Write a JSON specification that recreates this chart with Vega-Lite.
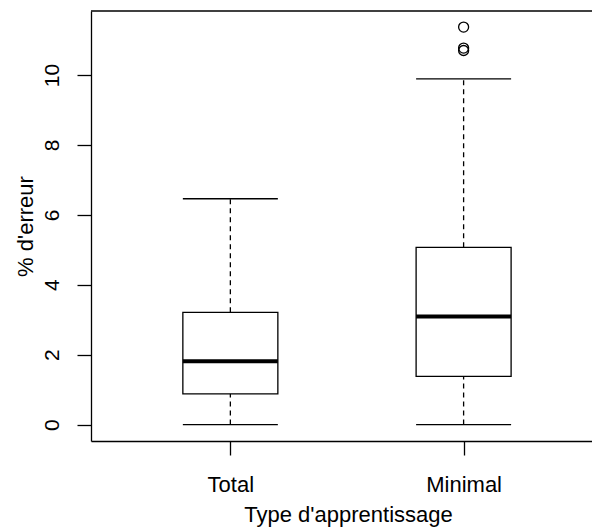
{
  "$schema": "https://vega.github.io/schema/vega-lite/v6.json",
  "width": 501,
  "height": 430,
  "autosize": {"type": "none"},
  "padding": {"left": 91, "top": 11, "right": 0, "bottom": 86},
  "background": "white",
  "config": {
    "view": {"stroke": null},
    "font": "Liberation Sans"
  },
  "datasets": {
    "stats": [
      {"group": 1, "label": "Total", "lo": 0, "q1": 0.88, "median": 1.81, "q3": 3.21, "hi": 6.46},
      {"group": 2, "label": "Minimal", "lo": 0, "q1": 1.38, "median": 3.09, "q3": 5.07, "hi": 9.89}
    ],
    "outliers": [
      {"group": 2, "value": 11.37},
      {"group": 2, "value": 10.77},
      {"group": 2, "value": 10.70}
    ],
    "frame": [{"top": 11.83}]
  },
  "encoding": {
    "x": {
      "field": "group",
      "type": "quantitative",
      "scale": {"domain": [0.424, 2.529], "nice": false, "zero": false},
      "axis": {
        "values": [1, 2],
        "labelExpr": "datum.value == 1 ? 'Total' : 'Minimal'",
        "title": "Type d'apprentissage",
        "grid": false,
        "domainColor": "black",
        "domainWidth": 1.3,
        "tickColor": "black",
        "tickWidth": 1.3,
        "tickSize": 14,
        "labelFontSize": 22,
        "labelColor": "black",
        "labelBaseline": "alphabetic",
        "labelPadding": 36,
        "labelFlush": false,
        "labelOverlap": false,
        "titleFontSize": 22,
        "titleFontWeight": "normal",
        "titleColor": "black",
        "titleBaseline": "alphabetic",
        "titleAlign": "center",
        "titleX": 257,
        "titleY": 80
      }
    }
  },
  "layer": [
    {
      "data": {"name": "stats"},
      "mark": {"type": "rule", "strokeDash": [5, 4], "strokeWidth": 1.3, "color": "black"},
      "encoding": {
        "y": {
          "field": "q3",
          "type": "quantitative",
          "scale": {"domain": [-0.47, 11.83], "nice": false, "zero": false},
          "axis": {
            "values": [0, 2, 4, 6, 8, 10],
            "title": "% d'erreur",
            "grid": false,
            "domainColor": "black",
            "domainWidth": 1.3,
            "tickColor": "black",
            "tickWidth": 1.3,
            "tickSize": 14,
            "labelFontSize": 21,
            "labelColor": "black",
            "labelAngle": -90,
            "labelAlign": "center",
            "labelBaseline": "alphabetic",
            "labelPadding": 19,
            "labelFlush": false,
            "labelOverlap": false,
            "titleFontSize": 22,
            "titleFontWeight": "normal",
            "titleColor": "black",
            "titleAngle": -90,
            "titleAlign": "center",
            "titleBaseline": "alphabetic",
            "titleX": -59,
            "titleY": 215
          }
        },
        "y2": {"field": "hi"}
      }
    },
    {
      "data": {"name": "stats"},
      "mark": {"type": "rule", "strokeDash": [5, 4], "strokeWidth": 1.3, "color": "black"},
      "encoding": {
        "y": {"field": "lo", "type": "quantitative"},
        "y2": {"field": "q1"}
      }
    },
    {
      "data": {"name": "stats"},
      "mark": {"type": "tick", "orient": "horizontal", "size": 95, "thickness": 1.3, "color": "black", "opacity": 1},
      "encoding": {
        "y": {"field": "hi", "type": "quantitative"}
      }
    },
    {
      "data": {"name": "stats"},
      "mark": {"type": "tick", "orient": "horizontal", "size": 95, "thickness": 1.3, "color": "black", "opacity": 1},
      "encoding": {
        "y": {"field": "lo", "type": "quantitative"}
      }
    },
    {
      "data": {"name": "stats"},
      "mark": {"type": "bar", "width": 95, "fill": "white", "stroke": "black", "strokeWidth": 1.3},
      "encoding": {
        "y": {"field": "q1", "type": "quantitative"},
        "y2": {"field": "q3"}
      }
    },
    {
      "data": {"name": "stats"},
      "mark": {"type": "tick", "orient": "horizontal", "size": 95, "thickness": 4, "color": "black", "opacity": 1},
      "encoding": {
        "y": {"field": "median", "type": "quantitative"}
      }
    },
    {
      "data": {"name": "outliers"},
      "mark": {"type": "point", "shape": "circle", "filled": false, "size": 100, "stroke": "black", "strokeWidth": 1.3, "opacity": 1},
      "encoding": {
        "y": {"field": "value", "type": "quantitative"}
      }
    },
    {
      "data": {"name": "frame"},
      "mark": {"type": "rule", "strokeWidth": 1.3, "color": "black"},
      "encoding": {
        "x": {"value": 0},
        "x2": {"value": 501},
        "y": {"field": "top", "type": "quantitative"}
      }
    }
  ]
}
